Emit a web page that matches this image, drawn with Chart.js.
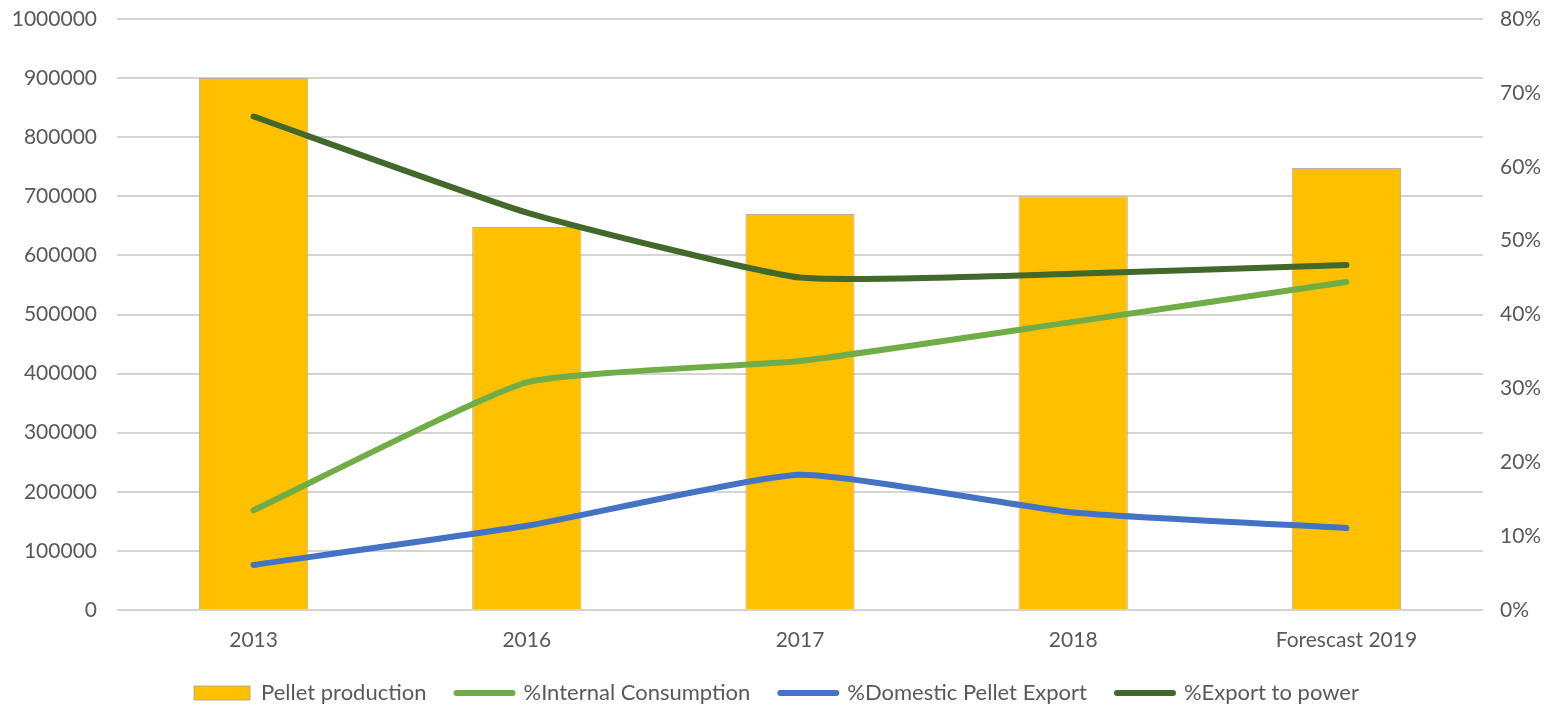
<!DOCTYPE html>
<html>
<head>
<meta charset="utf-8">
<script src="https://cdn.jsdelivr.net/npm/chart.js@4"></script>
<style>
  html, body { margin: 0; padding: 0; background: #fff; }
  #wrap { width: 1553px; height: 707px; position: relative; }
</style>
</head>
<body>
<div id="wrap"><canvas id="c"></canvas></div>
<script>
const categories = ["2013", "2016", "2017", "2018", "Forescast 2019"];
const pelletProduction = [900000, 648000, 670000, 700000, 748000];
const internalConsumption = [13.5, 30.8, 33.7, 39.0, 44.4];
const domesticExport = [6.1, 11.4, 18.3, 13.2, 11.1];
const exportToPower = [66.8, 53.8, 45.0, 45.5, 46.7];
const seriesNames = ["Pellet production", "%Internal Consumption", "%Domestic Pellet Export", "%Export to power"];
const leftTicks = { min: 0, max: 1000000, step: 100000 };
const rightTicks = { min: 0, max: 80, step: 10 };

const FONT = "Lato, 'Liberation Sans', sans-serif";
const FS = 21;
const LEG_PAD = 30;
const lineCommon = {
  type: 'line', yAxisID: 'y1', borderWidth: 6, pointRadius: 0, pointHoverRadius: 0,
  tension: 0.15, borderCapStyle: 'round', borderJoinStyle: 'round', fill: false, order: 1
};

new Chart(document.getElementById('c'), {
  data: {
    labels: categories,
    datasets: [
      { type: 'bar', label: seriesNames[0], data: pelletProduction, yAxisID: 'y',
        backgroundColor: '#FFC000', borderColor: 'rgba(170,160,140,0.8)', borderWidth: 1,
        barPercentage: 0.4, categoryPercentage: 1.0, order: 2 },
      Object.assign({ label: seriesNames[1], data: internalConsumption, borderColor: '#70AD47', backgroundColor: '#70AD47' }, lineCommon),
      Object.assign({ label: seriesNames[2], data: domesticExport, borderColor: '#4472C4', backgroundColor: '#4472C4' }, lineCommon),
      Object.assign({ label: seriesNames[3], data: exportToPower, borderColor: '#43682B', backgroundColor: '#43682B' }, lineCommon)
    ]
  },
  options: {
    responsive: true,
    maintainAspectRatio: false,
    animation: false,
    layout: { padding: { top: 19, left: 0, right: 0, bottom: -7 } },
    plugins: {
      tooltip: { enabled: false },
      legend: {
        position: 'bottom',
        labels: {
          font: { family: FONT, size: 22 },
          color: '#595959',
          usePointStyle: true,
          pointStyleWidth: 56,
          boxHeight: 14,
          padding: LEG_PAD,
          sort: (a, b) => a.datasetIndex - b.datasetIndex,
          generateLabels: (chart) => Chart.defaults.plugins.legend.labels.generateLabels(chart).map((l) => {
            const isBar = l.datasetIndex === 0;
            l.pointStyle = isBar ? 'rect' : 'line';
            if (isBar) { l.lineWidth = 1; l.strokeStyle = 'rgba(170,160,140,0.8)'; }
            else { l.lineWidth = 6; l.lineCap = 'round'; }
            return l;
          })
        }
      }
    },
    scales: {
      x: {
        grid: { display: false, drawTicks: false },
        border: { display: false },
        ticks: { font: { family: FONT, size: FS }, color: '#595959', padding: 18, maxRotation: 0 },
        afterFit: (s) => { s.paddingLeft = 0; s.paddingRight = 0; s.height = 42; }
      },
      y: {
        position: 'left',
        min: leftTicks.min, max: leftTicks.max,
        grid: { color: '#D4D4D4', lineWidth: 2, drawTicks: false },
        border: { display: false },
        ticks: { stepSize: leftTicks.step, font: { family: FONT, size: FS }, color: '#595959', padding: 20,
                 callback: (v) => String(v) },
        afterFit: (s) => { s.width = 117; s.paddingTop = 0; s.paddingBottom = 0; }
      },
      y1: {
        position: 'right',
        min: rightTicks.min, max: rightTicks.max,
        grid: { display: false, drawTicks: false },
        border: { display: false },
        ticks: { stepSize: rightTicks.step, font: { family: FONT, size: FS }, color: '#595959', padding: 17,
                 callback: (v) => v + '%' },
        afterFit: (s) => { s.width = 70; s.paddingTop = 0; s.paddingBottom = 0; }
      }
    }
  }
});
</script>
</body>
</html>
